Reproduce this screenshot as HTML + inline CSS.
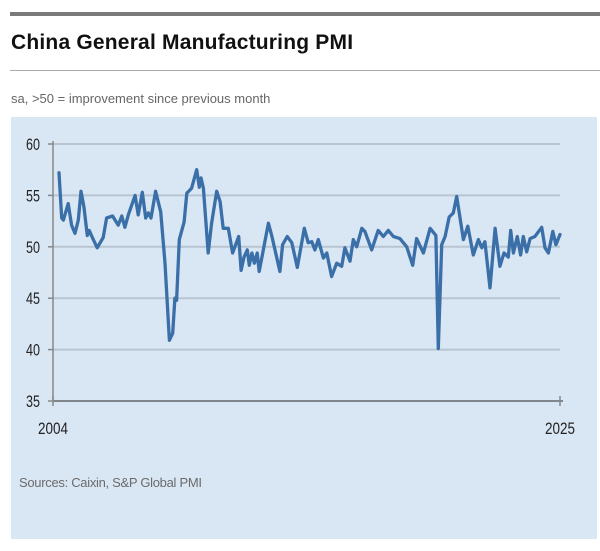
<!DOCTYPE html>
<html><head><meta charset="utf-8"><style>
body{margin:0;width:600px;height:551px;background:#fff;position:relative;overflow:hidden;font-family:"Liberation Sans",sans-serif}
#topbar{position:absolute;left:10px;top:12px;width:590px;height:4px;background:#7a7a7a}
#title{position:absolute;left:11px;top:31px;font-size:21px;font-weight:bold;color:#111;letter-spacing:0.2px}
#rule{position:absolute;left:10px;top:70px;width:590px;height:1px;background:#aaa}
#sub{position:absolute;left:11px;top:91px;font-size:13px;color:#666;letter-spacing:0}
#panel{position:absolute;left:11px;top:117px;width:586px;height:422px;background:#d9e6f4}
#src{position:absolute;left:19px;top:475px;font-size:13px;color:#6b6b6b;letter-spacing:-0.3px}
svg{position:absolute;left:0;top:0}
</style></head><body>
<div id="topbar"></div>
<div id="title">China General Manufacturing PMI</div>
<div id="rule"></div>
<div id="sub">sa, &gt;50 = improvement since previous month</div>
<div id="panel"></div>
<div id="src">Sources: Caixin, S&amp;P Global PMI</div>
<svg id="chart" width="600" height="551"></svg>
<script>
const yTicks=[60,55,50,45,40,35];
const xTickLabels=["2004","2025"];
const xTickYears=[2004,2025];
const dates=[0.25,0.36,0.43,0.63,0.77,0.91,1.05,1.16,1.28,1.42,1.50,1.67,1.83,2.08,2.22,2.47,2.70,2.85,2.98,3.12,3.40,3.53,3.70,3.84,3.95,4.06,4.25,4.46,4.64,4.82,4.96,5.05,5.12,5.23,5.43,5.54,5.74,5.95,6.06,6.13,6.23,6.43,6.57,6.78,6.92,7.05,7.26,7.44,7.69,7.79,7.91,8.05,8.13,8.24,8.34,8.46,8.54,8.92,9.06,9.40,9.51,9.70,9.89,10.12,10.41,10.57,10.72,10.85,10.99,11.20,11.34,11.54,11.75,11.96,12.09,12.30,12.44,12.58,12.79,12.92,13.20,13.47,13.68,13.89,14.10,14.37,14.65,14.90,15.06,15.34,15.62,15.86,15.96,16.10,16.24,16.41,16.58,16.72,17.00,17.18,17.41,17.62,17.76,17.89,18.10,18.31,18.51,18.68,18.86,18.96,19.07,19.23,19.37,19.48,19.62,19.76,19.96,20.24,20.38,20.52,20.70,20.83,21.0];
const pmi=[57.2,52.8,52.6,54.2,52.1,51.3,52.6,55.4,53.9,51.1,51.6,50.7,49.9,50.9,52.8,53.0,52.1,53.0,51.9,53.1,55.0,53.1,55.3,52.8,53.3,52.8,55.4,53.4,48.4,40.9,41.6,45.0,44.8,50.7,52.4,55.2,55.7,57.5,55.8,56.7,55.7,49.4,52.3,55.4,54.4,51.8,51.8,49.4,51.0,47.7,49.0,49.7,48.2,49.4,48.4,49.4,47.6,52.3,51.1,47.6,50.2,51.0,50.4,48.0,51.8,50.4,50.5,49.7,50.7,48.9,49.4,47.1,48.4,48.1,49.9,48.6,50.7,50.0,51.8,51.5,49.7,51.6,51.0,51.6,51.0,50.8,50.0,48.2,50.8,49.4,51.8,51.1,40.1,50.2,51.0,52.9,53.3,54.9,50.7,52.0,49.2,50.7,49.9,50.5,46.0,51.8,48.1,49.4,49.0,51.6,49.4,51.0,49.2,51.0,49.5,50.8,51.0,51.9,49.9,49.4,51.5,50.2,51.2];
const svg=document.getElementById('chart');
const NS='http://www.w3.org/2000/svg';
const x0=53,x1=560,yTop=144,yBot=401;
function xs(yr){return x0+(yr-2004)/(2025-2004)*(x1-x0);}
function ys(v){return yBot-(v-35)/(60-35)*(yBot-yTop);}
function mk(t,a){const e=document.createElementNS(NS,t);for(const k in a)e.setAttribute(k,a[k]);svg.appendChild(e);return e;}
yTicks.forEach(v=>{
  const y=ys(v);
  if(v>35){const g=mk('line',{x1:x0,x2:x1,y1:y,y2:y,stroke:'#b9c5d2','stroke-width':2});
  
  }
  const tk=mk('line',{x1:x0-5,x2:x0,y1:y,y2:y,stroke:'#888','stroke-width':1.5});
  
  
  const t=mk('text',{x:x0-13,y:y+6,'text-anchor':'end','font-size':17,fill:'#222',textLength:14,lengthAdjust:'spacingAndGlyphs'});
  t.textContent=v;
  
  
});
const ya=mk('line',{x1:x0,x2:x0,y1:yTop-3,y2:yBot,stroke:'#888','stroke-width':1.5});


const xa=mk('line',{x1:x0,x2:x1+3,y1:yBot,y2:yBot,stroke:'#80868e','stroke-width':2});


xTickYears.forEach((yr,i)=>{
  const x=xs(yr);
  const tk=mk('line',{x1:x,x2:x,y1:yBot-5,y2:yBot+5,stroke:'#888','stroke-width':1.5});
  
  
  const t=mk('text',{x:x,y:yBot+33,'text-anchor':'middle','font-size':17,fill:'#222',textLength:30,lengthAdjust:'spacingAndGlyphs'});
  t.textContent=xTickLabels[i];
  
  
});
let d='';
dates.forEach((o,i)=>{d+=(i?'L':'M')+xs(2004+o).toFixed(1)+','+ys(pmi[i]).toFixed(1);});
const p=mk('path',{d:d,fill:'none',stroke:'#3a6fa8','stroke-width':3.3,'stroke-linejoin':'round','stroke-linecap':'round'});


</script>
</body></html>
